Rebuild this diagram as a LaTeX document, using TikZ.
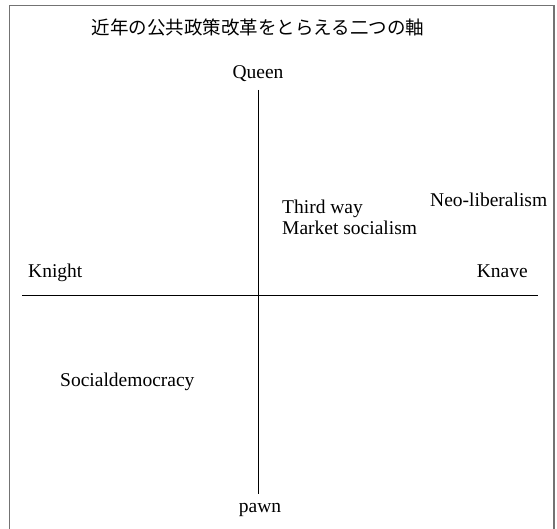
\documentclass[tikz,border=0pt]{standalone}
\usepackage{fontspec}
\setmainfont{Liberation Serif}
\newfontfamily\cjk{Noto Sans CJK JP}
\begin{document}
\begin{tikzpicture}[x=1pt,y=-1pt,
  lbl/.style={inner sep=0pt,font=\fontsize{19.5}{22}\selectfont},
  axis/.style={line width=1pt,black},
  frame/.style={draw=black!55,line width=1.6pt}]
\useasboundingbox (0,0) rectangle (557,529);
\draw[frame] (9.5,5.5) -- (554,5.5) -- (554,535) (9.5,535) -- (9.5,5.5);
\node[lbl,anchor=base] (title) at (258,35) {\cjk\fontsize{18.5}{22}\selectfont 近年の公共政策改革をとらえる二つの軸};
\coordinate (vt) at (258.5,90);
\coordinate (vb) at (258.5,494);
\coordinate (hl) at (22,295.7);
\coordinate (hr) at (538,295.7);
\draw[axis] (vt) -- (vb);
\draw[axis] (hl) -- (hr);
\node[lbl,anchor=base] (queen) at (258,79) {Queen};
\node[lbl,anchor=base] (pawn) at (260,512) {pawn};
\node[lbl,anchor=base west] (knight) at (28,278) {Knight};
\node[lbl,anchor=base east] (knave) at (528,278) {Knave};
\node[lbl,anchor=base west] (third) at (282,214) {Third way};
\node[lbl,anchor=base west] (market) at (282,235) {Market socialism};
\node[lbl,anchor=base west] (neo) at (430,207) {Neo-liberalism};
\node[lbl,anchor=base west] (social) at (60,386) {Socialdemocracy};
\end{tikzpicture}
\end{document}
